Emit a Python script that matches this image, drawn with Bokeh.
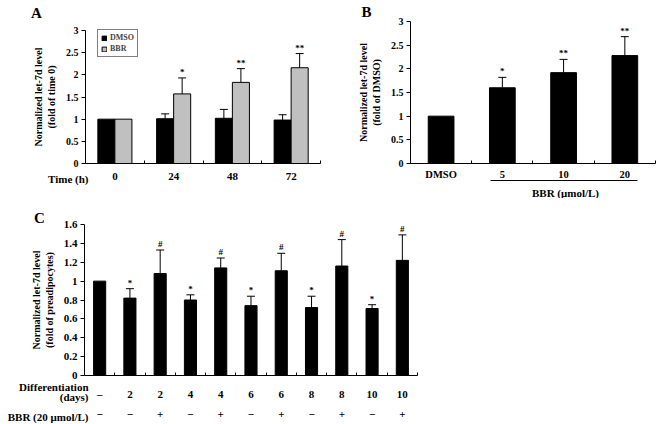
from bokeh.plotting import figure
from bokeh.models import (ColumnDataSource, Range1d, Whisker, Label, Legend, LegendItem,
                          LinearAxis, TeeHead, FixedTicker, CustomJSTickFormatter)
from bokeh.transform import dodge
from bokeh.layouts import column, row
from bokeh.core.properties import value
from bokeh.embed import file_html
from bokeh.resources import INLINE

FONT = "Liberation Serif"

# ---------------- data ----------------
# Panel A
a_times = ["0", "24", "48", "72"]
a_dmso = [1.0, 1.01, 1.02, 0.98]
a_dmso_err = [1.0, 1.12, 1.22, 1.10]
a_bbr = [1.0, 1.57, 1.83, 2.16]
a_bbr_err = [1.0, 1.93, 2.14, 2.48]
a_sig = ["", "*", "**", "**"]
a_yticks = [0, 0.5, 1, 1.5, 2, 2.5, 3]

# Panel B
b_groups = ["DMSO", "5", "10", "20"]
b_vals = [1.0, 1.60, 1.92, 2.28]
b_err = [1.0, 1.82, 2.20, 2.68]
b_sig = ["", "*", "**", "**"]
b_yticks = [0, 0.5, 1, 1.5, 2, 2.5, 3]

# Panel C
c_days = ["–", "2", "2", "4", "4", "6", "6", "8", "8", "10", "10"]
c_bbr = ["−", "−", "+", "−", "+", "−", "+", "−", "+", "−", "+"]
c_vals = [1.0, 0.82, 1.08, 0.80, 1.14, 0.74, 1.11, 0.72, 1.16, 0.71, 1.22]
c_err = [1.0, 0.92, 1.33, 0.855, 1.245, 0.84, 1.295, 0.84, 1.44, 0.75, 1.49]
c_sig = ["", "*", "#", "*", "#", "*", "#", "*", "#", "*", "#"]
c_yticks = [0, 0.2, 0.4, 0.6, 0.8, 1.0, 1.2, 1.4, 1.6]

NUMFMT = CustomJSTickFormatter(code="return String(Number(tick.toFixed(2)));")


def cat_formatter(labels):
    return CustomJSTickFormatter(args=dict(labels=labels), code="""
        const l = labels[Math.round(tick)];
        return l === undefined ? '' : l;""")


def make_fig(w, h, xr, yr):
    p = figure(width=w, height=h, x_range=Range1d(*xr), y_range=Range1d(*yr),
               output_backend="svg", toolbar_location=None,
               x_axis_location=None, y_axis_location=None,
               min_border=0, min_border_left=0, min_border_right=0,
               min_border_top=0, min_border_bottom=0)
    p.outline_line_color = None
    p.xgrid.visible = False
    p.ygrid.visible = False
    p.background_fill_color = "white"
    p.border_fill_color = "white"
    return p


def text_props(ax, fs):
    ax.major_label_text_font = FONT
    ax.major_label_text_font_style = "bold"
    ax.major_label_text_font_size = fs
    ax.major_label_text_color = "black"


def add_yaxis(p, ticks, top, label, fs, label_fs):
    ax = LinearAxis(fixed_location=-0.5, bounds=(0, top), ticker=FixedTicker(ticks=ticks),
                    formatter=NUMFMT, axis_line_color="black", axis_line_width=1,
                    major_tick_in=0, major_tick_out=4, major_tick_line_color="black",
                    minor_tick_line_color=None, minor_tick_out=0, major_label_standoff=3,
                    axis_label=label, axis_label_standoff=6,
                    axis_label_text_font=FONT, axis_label_text_font_style="bold",
                    axis_label_text_font_size=label_fs, axis_label_text_color="black")
    text_props(ax, fs)
    p.add_layout(ax, "left")


def add_xaxis(p, labels, fs, standoff, line=True):
    n = len(labels)
    idx = list(range(n))
    ax = LinearAxis(fixed_location=0, bounds=(-0.5, n - 0.5),
                    ticker=FixedTicker(ticks=idx, minor_ticks=[i - 0.5 for i in range(n + 1)] if line else []),
                    formatter=cat_formatter(labels),
                    axis_line_color="black" if line else None, axis_line_width=1,
                    major_tick_line_color=None, major_tick_in=0, major_tick_out=0,
                    minor_tick_line_color="black" if line else None,
                    minor_tick_in=3, minor_tick_out=0,
                    major_label_standoff=standoff)
    text_props(ax, fs)
    p.add_layout(ax, "below")


def add_label(p, text, x, y, fs, align="center"):
    p.add_layout(Label(x=x, y=y, x_units="screen", y_units="screen", text=text,
                       text_font=FONT, text_font_style="bold", text_font_size=fs,
                       text_align=align, text_baseline="middle", text_color="black"))


def sig_whiskers(p, xs_all, vals, errs, sigs, offset, fs):
    keep = [i for i, (v, e) in enumerate(zip(vals, errs)) if e > v]
    src = ColumnDataSource(dict(x=[xs_all[i] for i in keep],
                                lower=[vals[i] for i in keep],
                                upper=[errs[i] for i in keep],
                                sig=[sigs[i] for i in keep]))
    base = dodge("x", offset)
    p.add_layout(Whisker(base=base, lower="lower", upper="upper", source=src,
                         dimension="height", line_color="black", line_width=1,
                         upper_head=TeeHead(size=8, line_color="black", line_width=1),
                         lower_head=None, level="overlay"))
    p.text(x=base, y="upper", text="sig", source=src, text_align="center",
           text_baseline="bottom", y_offset=-1, text_font=value(FONT),
           text_font_style="bold", text_font_size=fs, text_color="black")


# ---------------- Panel A ----------------
pA = make_fig(330, 198, (-1.947, 3.670), (-0.7895, 3.677))
xa = list(range(len(a_times)))
srcA = ColumnDataSource(dict(x=xa, dmso=a_dmso, bbr=a_bbr))
rA1 = pA.vbar(x=dodge("x", -0.145), top="dmso", width=0.29, source=srcA,
              fill_color="black", line_color="black", line_width=1)
rA2 = pA.vbar(x=dodge("x", 0.145), top="bbr", width=0.29, source=srcA,
              fill_color="#c0c0c0", line_color="black", line_width=1)
sig_whiskers(pA, xa, a_dmso, a_dmso_err, [""] * len(xa), -0.145, "9px")
sig_whiskers(pA, xa, a_bbr, a_bbr_err, a_sig, 0.145, "9px")
add_yaxis(pA, a_yticks, 3, "Normalized let-7d level\n(fold of time 0)", "10px", "10px")
add_xaxis(pA, a_times, "11px", 9)
legA = Legend(items=[LegendItem(label="DMSO", renderers=[rA1]),
                     LegendItem(label="BBR", renderers=[rA2])],
              location=(97, 141), label_text_font=FONT, label_text_font_style="bold",
              label_text_font_size="8px", glyph_height=6, glyph_width=6,
              label_height=9, label_standoff=3, spacing=2, padding=3, margin=0,
              border_line_color="black", border_line_width=1, background_fill_alpha=1)
pA.add_layout(legA, "center")
add_label(pA, "Time (h)", 88, 20, "11px", align="right")
add_label(pA, "A", 36, 186, "15px")

# ---------------- Panel B ----------------
pB = make_fig(326, 198, (-1.806, 3.517), (-0.7395, 3.444))
xb = list(range(len(b_groups)))
srcB = ColumnDataSource(dict(x=xb, v=b_vals))
pB.vbar(x="x", top="v", width=0.42, source=srcB, fill_color="black", line_color="black")
sig_whiskers(pB, xb, b_vals, b_err, b_sig, 0, "9px")
add_yaxis(pB, b_yticks, 3, "Normalized let-7d level\n(fold of DMSO)", "10px", "10px")
add_xaxis(pB, b_groups, "10.5px", 5)
under = LinearAxis(fixed_location=-0.359, bounds=(0.80, 3.21), ticker=FixedTicker(ticks=[]),
                   axis_line_color="black", axis_line_width=1,
                   major_tick_line_color=None, minor_tick_line_color=None)
pB.add_layout(under, "below")
add_label(pB, "BBR (μmol/L)", 235, 6, "11px")
add_label(pB, "B", 36, 187, "15px")

# ---------------- Panel C ----------------
pC = make_fig(656, 226, (-3.275, 18.396), (-0.519, 1.8755))
xc = list(range(len(c_vals)))
srcC = ColumnDataSource(dict(x=xc, v=c_vals))
pC.vbar(x="x", top="v", width=0.4, source=srcC, fill_color="black", line_color="black")
sig_whiskers(pC, xc, c_vals, c_err, c_sig, 0, "9px")
add_yaxis(pC, c_yticks, 1.6, "Normalized let-7d level\n(fold of preadipocytes)", "11px", "10px")
add_xaxis(pC, c_days, "11px", 12)
add_xaxis(pC, c_bbr, "11px", 35, line=False)
add_label(pC, "Differentiation", 88, 38, "11px", align="right")
add_label(pC, "(days)", 88, 28, "11px", align="right")
add_label(pC, "BBR (20 μmol/L)", 88, 8, "11px", align="right")
add_label(pC, "C", 39, 207, "15px")

layout = column(row(pA, pB), pC)
open("out.html", "w").write(file_html(layout, INLINE))
